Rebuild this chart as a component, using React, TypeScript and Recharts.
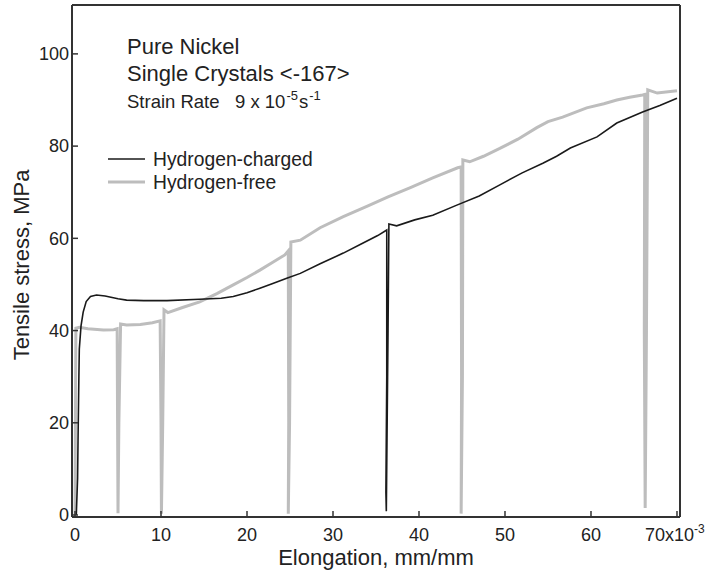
import { LineChart, Line, XAxis, YAxis } from 'recharts';

// elongation in units of 1e-3 mm/mm, stress in MPa
const chargedStrain = [0.15, 0.3, 0.35, 0.45, 0.5, 0.7, 0.95, 1.3, 1.8, 2.5, 3.5, 5, 6, 8, 10.7, 14.5, 17, 18.4, 20, 21.5, 23, 24.7, 26.2, 28.5, 31.2, 33.5, 35.2, 36.25, 36.25, 36.15, 36.2, 36.4, 36.5, 37.4, 39.5, 41.6, 44.4, 47, 49.4, 52, 54.4, 56, 57.6, 60.7, 63, 66, 68, 70];
const chargedStress = [0, 8, 16, 30, 36, 41, 44, 46.3, 47.4, 47.7, 47.5, 46.9, 46.6, 46.5, 46.5, 46.8, 47, 47.4, 48.2, 49.2, 50.2, 51.4, 52.4, 54.5, 56.8, 59, 60.6, 61.8, 30, 5, 0.8, 40, 63.1, 62.7, 64, 65, 67.2, 69.2, 71.6, 74.2, 76.3, 77.8, 79.6, 82, 85, 87.4, 88.8, 90.4];

const freeStrain = [0, 0.05, 0.1, 0.5, 1.5, 3.3, 4.5, 4.9, 4.95, 5.0, 5.1, 5.3, 6, 7.6, 9, 9.9, 10.0, 10.05, 10.2, 10.35, 10.8, 12.5, 14.5, 16.5, 18.4, 20, 21.5, 23, 24.4, 24.8, 24.85, 24.8, 24.95, 25.1, 26.2, 28.5, 31.2, 34, 36.4, 39, 41.6, 44.5, 44.9, 44.95, 44.9, 45.05, 45.1, 45.9, 47.5, 49.4, 51.5, 53.7, 55, 56.7, 59.5, 61.5, 63, 64.5, 66, 66.25, 66.2, 66.3, 66.45, 66.6, 67.7, 70];
const freeStress = [0, 20, 40.5, 40.7, 40.4, 40.1, 40.2, 40.4, 20, 0.4, 20, 41.4, 41.2, 41.3, 41.7, 42.1, 20, 0.3, 20, 44.5, 43.9, 45, 46.2, 48, 49.9, 51.5, 53.1, 54.8, 56.4, 57.3, 20, 0.3, 20, 59.2, 59.6, 62.3, 64.7, 67, 69, 71, 73.1, 75.3, 75.5, 30, 0.3, 30, 77, 76.6, 77.8, 79.5, 81.5, 84, 85.3, 86.3, 88.3, 89.2, 90, 90.6, 91.1, 91.2, 40, 1.5, 40, 92.2, 91.5, 92];

const xTicks = [0, 10, 20, 30, 40, 50, 60, 70];
const yTicks = [0, 20, 40, 60, 80, 100];

const chargedData = chargedStrain.map((x, i) => ({ x, y: chargedStress[i] }));
const freeData = freeStrain.map((x, i) => ({ x, y: freeStress[i] }));

const FONT = '"Liberation Sans", Arial, sans-serif';
const FRAME = '#333';
const X_DOMAIN = [-0.35, 70.35];
const Y_DOMAIN = [-0.43, 110.6];

function XTick(props: any) {
  const { x, y, payload } = props;
  if (payload.value === 70) {
    return (
      <text x={x - 32} y={y} dy={13.5} fontSize={18} fontFamily={FONT} fill="#222">
        70x10<tspan dy={-8} fontSize={12}>-3</tspan>
      </text>
    );
  }
  return (
    <text x={x} y={y} dy={13.5} textAnchor="middle" fontSize={18} fontFamily={FONT} fill="#222">
      {payload.value}
    </text>
  );
}

export default function App() {
  return (
    <div style={{ position: 'absolute', left: 0, top: 0, width: 708, height: 576, background: '#fff' }}>
      <LineChart width={708} height={576} margin={{ top: 4, right: 27, bottom: 58, left: 71 }}>
        <XAxis
          xAxisId="b"
          dataKey="x"
          type="number"
          domain={X_DOMAIN}
          ticks={xTicks}
          allowDataOverflow
          height={1}
          tickSize={-6}
          tickMargin={16}
          axisLine={{ stroke: FRAME, strokeWidth: 2 }}
          tickLine={{ stroke: FRAME, strokeWidth: 1.5 }}
          tick={<XTick />}
        />
        <XAxis
          xAxisId="t"
          orientation="top"
          dataKey="x"
          type="number"
          domain={X_DOMAIN}
          ticks={xTicks}
          allowDataOverflow
          height={1}
          tickSize={-6}
          axisLine={{ stroke: FRAME, strokeWidth: 2 }}
          tickLine={{ stroke: FRAME, strokeWidth: 1.5 }}
          tick={false}
        />
        <YAxis
          yAxisId="l"
          type="number"
          domain={Y_DOMAIN}
          ticks={yTicks}
          allowDataOverflow
          width={1}
          tickSize={-6}
          tickMargin={9}
          axisLine={{ stroke: FRAME, strokeWidth: 2 }}
          tickLine={{ stroke: FRAME, strokeWidth: 1.5 }}
          tick={{ fontSize: 18, fontFamily: FONT, fill: '#222' }}
        />
        <YAxis
          yAxisId="r"
          orientation="right"
          type="number"
          domain={Y_DOMAIN}
          ticks={yTicks}
          allowDataOverflow
          width={1}
          tickSize={-6}
          axisLine={{ stroke: FRAME, strokeWidth: 2 }}
          tickLine={{ stroke: FRAME, strokeWidth: 1.5 }}
          tick={false}
        />
        <Line
          xAxisId="b"
          yAxisId="l"
          data={freeData}
          dataKey="y"
          type="linear"
          stroke="#bdbdbd"
          strokeWidth={3}
          dot={false}
          isAnimationActive={false}
        />
        <Line
          xAxisId="b"
          yAxisId="l"
          data={chargedData}
          dataKey="y"
          type="linear"
          stroke="#1a1a1a"
          strokeWidth={1.6}
          dot={false}
          isAnimationActive={false}
        />
      </LineChart>
      <svg
        width={708}
        height={576}
        style={{ position: 'absolute', left: 0, top: 0, pointerEvents: 'none' }}
        fontFamily={FONT}
        fill="#222"
      >
        <text x={127} y={54} fontSize={22}>Pure Nickel</text>
        <text x={127} y={81} fontSize={22}>Single Crystals &lt;-167&gt;</text>
        <text x={127} y={108} fontSize={18.5}>
          Strain Rate{'\u00a0\u00a0\u00a0'}9 x 10<tspan dy={-8} dx={1} fontSize={13}>-5</tspan>
          <tspan dy={8} dx={1}>s</tspan>
          <tspan dy={-8} dx={1} fontSize={13}>-1</tspan>
        </text>
        <line x1={108} x2={145} y1={159} y2={159} stroke="#1a1a1a" strokeWidth={1.6} />
        <text x={153} y={165.5} fontSize={19.3}>Hydrogen-charged</text>
        <line x1={108} x2={145} y1={182} y2={182} stroke="#bdbdbd" strokeWidth={3} />
        <text x={153} y={188.5} fontSize={19.3}>Hydrogen-free</text>
        <text x={376} y={565} fontSize={22} textAnchor="middle">Elongation, mm/mm</text>
        <text x={29} y={265} fontSize={22} textAnchor="middle" transform="rotate(-90 29 265)">
          Tensile stress, MPa
        </text>
      </svg>
    </div>
  );
}
